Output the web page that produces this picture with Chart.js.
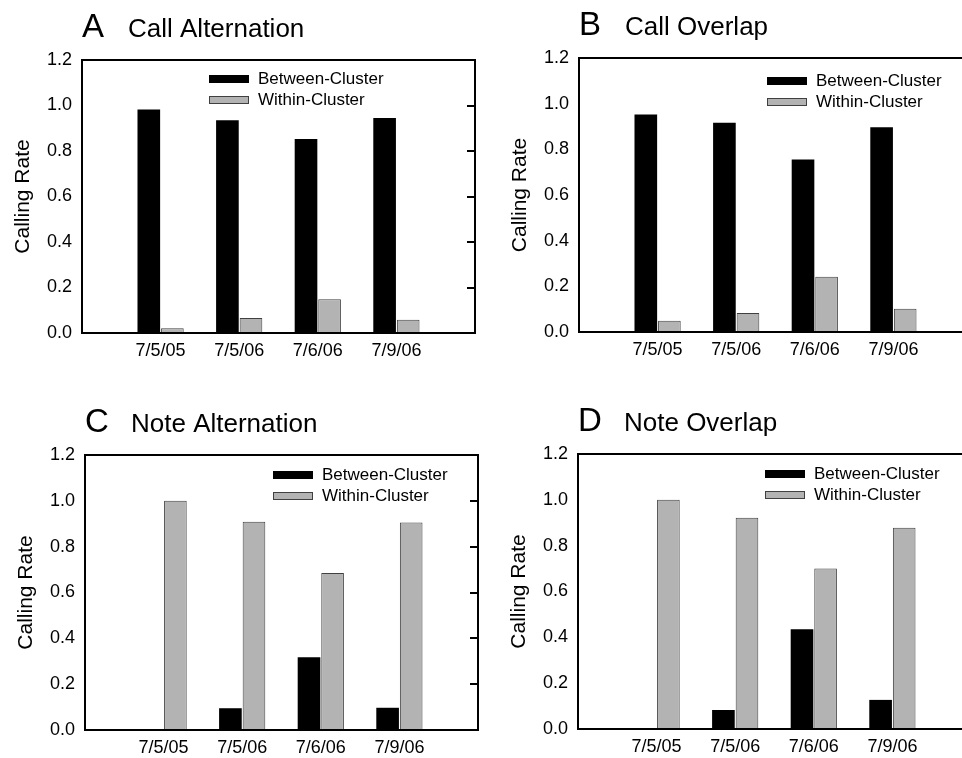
<!DOCTYPE html>
<html>
<head>
<meta charset="utf-8">
<script src="https://cdn.jsdelivr.net/npm/chart.js@4.4.1/dist/chart.umd.min.js"></script>
<style>
  html, body { margin: 0; padding: 0; background: #fff; overflow: hidden; }
  body { width: 962px; height: 758px; position: relative; }
  canvas { position: absolute; }
</style>
</head>
<body>
<canvas id="chartA" width="490" height="378" style="left:0;top:0"></canvas>
<canvas id="chartB" width="490" height="378" style="left:490px;top:0"></canvas>
<canvas id="chartC" width="490" height="380" style="left:0;top:378px"></canvas>
<canvas id="chartD" width="490" height="380" style="left:490px;top:378px"></canvas>
<script>
// data
const dates = ['7/5/05', '7/5/06', '7/6/06', '7/9/06'];
const seriesNames = ['Between-Cluster', 'Within-Cluster'];
const yTickValues = [0, 0.2, 0.4, 0.6, 0.8, 1.0, 1.2];

const callAltBetween = [0.982, 0.935, 0.853, 0.945];
const callAltWithin = [0.021, 0.066, 0.148, 0.058];
const callOvBetween = [0.953, 0.916, 0.756, 0.897];
const callOvWithin = [0.049, 0.083, 0.242, 0.102];
const noteAltBetween = [0, 0.095, 0.318, 0.097];
const noteAltWithin = [1.0, 0.909, 0.685, 0.906];
const noteOvBetween = [0, 0.083, 0.435, 0.127];
const noteOvWithin = [1.0, 0.922, 0.700, 0.878];

const FONT = '"Liberation Sans", Arial, sans-serif';

// frame, inward right ticks, panel title and legend
const panelDeco = {
  id: 'panelDeco',
  afterDraw(chart, args, opts) {
    const ctx = chart.ctx;
    const a = chart.chartArea;
    const y = chart.scales.y;
    ctx.save();
    ctx.strokeStyle = '#000';
    ctx.lineWidth = 2;
    ctx.strokeRect(a.left, a.top, a.right - a.left, a.bottom - a.top);
    ctx.beginPath();
    y.ticks.forEach(t => {
      const py = Math.round(y.getPixelForValue(t.value));
      ctx.moveTo(a.right - 8, py);
      ctx.lineTo(a.right, py);
    });
    ctx.stroke();

    ctx.fillStyle = '#000';
    ctx.textBaseline = 'alphabetic';
    ctx.font = '33px ' + FONT;
    ctx.fillText(opts.letter, a.left, a.top - 23);
    ctx.font = '26px ' + FONT;
    ctx.fillText(opts.title, a.left + 46, a.top - 23);

    chart.data.datasets.forEach((ds, i) => {
      const cy = a.top + opts.legendY + i * 21;
      const x = a.left + opts.legendX;
      ctx.fillStyle = ds.backgroundColor;
      ctx.fillRect(x, cy - 4, 40, 8);
      if (ds.borderWidth) {
        ctx.lineWidth = 1;
        ctx.strokeStyle = ds.borderColor;
        ctx.strokeRect(x + 0.5, cy - 3.5, 39, 7);
      }
      ctx.fillStyle = '#000';
      ctx.font = '17px ' + FONT;
      ctx.textBaseline = 'middle';
      ctx.fillText(ds.label, x + 49, cy);
    });
    ctx.restore();
  }
};

function makePanel(id, letter, title, between, within, area, legendX, legendY) {
  const canvas = document.getElementById(id);
  const W = canvas.width, H = canvas.height;
  // one empty slot either side, like the original x range 0..5
  const labels = [''].concat(dates, ['']);
  const pad = v => [null].concat(v, [null]);

  new Chart(canvas, {
    type: 'bar',
    data: {
      labels: labels,
      datasets: [
        {
          label: seriesNames[0],
          data: pad(between),
          backgroundColor: '#000000',
          borderWidth: 0
        },
        {
          label: seriesNames[1],
          data: pad(within),
          backgroundColor: '#b3b3b3',
          borderColor: '#404040',
          borderWidth: 1
        }
      ]
    },
    options: {
      responsive: false,
      animation: false,
      categoryPercentage: 0.6,
      barPercentage: 0.96,
      layout: {
        padding: { left: area[0] - 82, top: area[1], right: W - area[2], bottom: 0 }
      },
      plugins: {
        legend: { display: false },
        tooltip: { enabled: false },
        panelDeco: { letter: letter, title: title, legendX: legendX, legendY: legendY }
      },
      scales: {
        x: {
          offset: false,
          grid: { display: false, drawTicks: false },
          border: { display: false },
          ticks: {
            autoSkip: false,
            maxRotation: 0,
            padding: 7,
            color: '#000',
            font: { family: FONT, size: 18 }
          },
          afterFit(scale) { scale.height = H - area[3]; }
        },
        y: {
          min: 0,
          max: 1.2,
          afterBuildTicks(scale) { scale.ticks = yTickValues.map(v => ({ value: v })); },
          grid: { display: false, drawTicks: false },
          border: { display: false },
          ticks: {
            padding: 10,
            color: '#000',
            font: { family: FONT, size: 18 },
            callback: v => Number(v).toFixed(1)
          },
          title: {
            display: true,
            text: 'Calling Rate',
            color: '#000',
            font: { family: FONT, size: 21 },
            padding: { top: 11, bottom: 0 }
          },
          afterFit(scale) { scale.width = 82; }
        }
      }
    },
    plugins: [panelDeco]
  });
}

makePanel('chartA', 'A', 'Call Alternation', callAltBetween, callAltWithin, [82, 60, 475, 333], 127, 19);
makePanel('chartB', 'B', 'Call Overlap', callOvBetween, callOvWithin, [89, 58, 482, 332], 188, 23);
makePanel('chartC', 'C', 'Note Alternation', noteAltBetween, noteAltWithin, [85, 77, 478, 352], 188, 20);
makePanel('chartD', 'D', 'Note Overlap', noteOvBetween, noteOvWithin, [88, 76, 481, 351], 187, 20);
</script>
</body>
</html>
